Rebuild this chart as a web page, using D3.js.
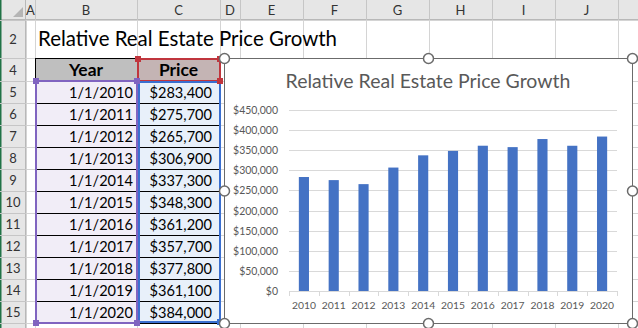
<!DOCTYPE html>
<html><head><meta charset="utf-8">
<script src="https://cdn.jsdelivr.net/npm/d3@7"></script>
<style>html,body{margin:0;padding:0;background:#fff;overflow:hidden}svg{display:block}</style>
</head><body>
<svg id="c" width="638" height="328"></svg>
<script>
const categories = ["2010","2011","2012","2013","2014","2015","2016","2017","2018","2019","2020"];
const dates = ["1/1/2010","1/1/2011","1/1/2012","1/1/2013","1/1/2014","1/1/2015","1/1/2016","1/1/2017","1/1/2018","1/1/2019","1/1/2020"];
const prices = [283400,275700,265700,306900,337300,348300,361200,357700,377800,361100,384000];
const yTicks = [0,50000,100000,150000,200000,250000,300000,350000,400000,450000];
const columnLetters = ["A","B","C","D","E","F","G","H","I","J",""];
const rowNumbers = ["2","4","5","6","7","8","9","10","11","12","13","14","15"];
const sheetTitle = "Relative Real Estate Price Growth";
const chartTitle = "Relative Real Estate Price Growth";
const headers = ["Year","Price"];

const FONT = "Lato, 'Open Sans', sans-serif";
const svg = d3.select("#c");
svg.append("rect").attr("width",638).attr("height",328).attr("fill","#fff");

function fit(sel, target){
  const n = sel.node(); const fs = parseFloat(sel.attr("font-size"));
  const w = n.getComputedTextLength();
  if (w>0) sel.attr("font-size", fs*target/w);
  return parseFloat(sel.attr("font-size"));
}

// grid geometry
const colEdges = [26,35,137,220,240,303,366,429,492,555,618,681];
const rowEdges = [20,58,81]; for(let i=1;i<=11;i++) rowEdges.push(81+22*i); rowEdges.push(345);

const grid = svg.append("g");
colEdges.forEach(x=>grid.append("line").attr("x1",x+0.5).attr("x2",x+0.5).attr("y1",20).attr("y2",328).attr("stroke","#d4d4d4"));
rowEdges.forEach(y=>grid.append("line").attr("x1",26).attr("x2",638).attr("y1",y+0.5).attr("y2",y+0.5).attr("stroke","#d4d4d4"));

// headers
svg.append("rect").attr("x",0).attr("y",0).attr("width",638).attr("height",20).attr("fill","#e6e6e6");
svg.append("rect").attr("x",0).attr("y",0).attr("width",26).attr("height",328).attr("fill","#e6e6e6");
svg.append("line").attr("x1",0).attr("x2",638).attr("y1",19.5).attr("y2",19.5).attr("stroke","#b8b8b8");
svg.append("line").attr("x1",25.5).attr("x2",25.5).attr("y1",0).attr("y2",328).attr("stroke","#b8b8b8");
svg.append("rect").attr("x",0).attr("y",0).attr("width",1.5).attr("height",328).attr("fill","#217346");
svg.append("path").attr("d","M23,7 L23,17 L13,17 Z").attr("fill","#b5b5b5");
colEdges.slice(0,-1).forEach((x,i)=>{
  svg.append("line").attr("x1",colEdges[i+1]+0.5).attr("x2",colEdges[i+1]+0.5).attr("y1",0).attr("y2",20).attr("stroke","#c6c6c6");
  if (columnLetters[i]) svg.append("text").attr("x",(x+colEdges[i+1])/2).attr("y",15).attr("text-anchor","middle")
    .attr("font-family",FONT).attr("font-size",13).attr("fill","#333").text(columnLetters[i]);
});
rowNumbers.forEach((r,i)=>{
  const y0=rowEdges[i], y1=rowEdges[i+1];
  svg.append("line").attr("x1",0).attr("x2",26).attr("y1",y1+0.5).attr("y2",y1+0.5).attr("stroke","#c6c6c6");
  svg.append("text").attr("x",13).attr("y",(y0+y1)/2+5).attr("text-anchor","middle")
    .attr("font-family",FONT).attr("font-size",13).attr("fill","#333").text(r);
});
svg.append("line").attr("x1",0).attr("x2",26).attr("y1",20.5).attr("y2",20.5).attr("stroke","#c6c6c6");

// sheet title
const st = svg.append("text").attr("x",38).attr("y",46).attr("font-family",FONT).attr("font-size",20).attr("fill","#000").text(sheetTitle);
fit(st, 299);

// table
const bx0=35, bx1=137, cx1=220;
svg.append("rect").attr("x",bx0).attr("y",58).attr("width",bx1-bx0).attr("height",23).attr("fill","#bfbfbf");
svg.append("rect").attr("x",bx1).attr("y",58).attr("width",cx1-bx1).attr("height",23).attr("fill","#c4b4b4");
svg.append("rect").attr("x",bx0).attr("y",81).attr("width",bx1-bx0).attr("height",242).attr("fill","#f1edf7");
svg.append("rect").attr("x",bx1).attr("y",81).attr("width",cx1-bx1).attr("height",242).attr("fill","#e8f0fa");
for(let i=0;i<=12;i++){
  const y = i===0?58:81+22*(i-1);
  svg.append("line").attr("x1",bx0).attr("x2",cx1).attr("y1",y+0.5).attr("y2",y+0.5).attr("stroke","#000");
}
[bx0,bx1,cx1].forEach(x=>svg.append("line").attr("x1",x+0.5).attr("x2",x+0.5).attr("y1",58).attr("y2",323).attr("stroke","#000"));

const fmtCell = d3.format("$,");
const probe = svg.append("text").attr("font-family",FONT).attr("font-size",15).text(dates[0]);
const cellFs = fit(probe, 64); probe.remove();
const hY = svg.append("text").attr("x",(bx0+bx1)/2).attr("y",76).attr("text-anchor","middle").attr("font-family",FONT)
  .attr("font-weight","bold").attr("font-size",cellFs).text(headers[0]);
const hFs = fit(hY, 34);
svg.append("text").attr("x",(bx1+cx1)/2).attr("y",76).attr("text-anchor","middle").attr("font-family",FONT)
  .attr("font-weight","bold").attr("font-size",hFs).text(headers[1]);
dates.forEach((d,i)=>{
  svg.append("text").attr("x",133).attr("y",98+22*i).attr("text-anchor","end").attr("font-family",FONT)
    .attr("font-size",cellFs).attr("fill","#000").text(d);
  svg.append("text").attr("x",212).attr("y",98+22*i).attr("text-anchor","end").attr("font-family",FONT)
    .attr("font-size",cellFs).attr("fill","#000").text(fmtCell(prices[i]));
});

// range highlights
svg.append("rect").attr("x",bx0+1).attr("y",81).attr("width",bx1-bx0-1).attr("height",242).attr("fill","none").attr("stroke","#8064c0").attr("stroke-width",2);
svg.append("rect").attr("x",bx1+1).attr("y",59).attr("width",cx1-bx1-1).attr("height",22).attr("fill","none").attr("stroke","#c0353d").attr("stroke-width",2);
svg.append("rect").attr("x",bx1+2).attr("y",82).attr("width",cx1-bx1-2).attr("height",240).attr("fill","none").attr("stroke","#3a6fd0").attr("stroke-width",2);
function handle(x,y,c){svg.append("rect").attr("x",x-3).attr("y",y-3).attr("width",6).attr("height",6).attr("fill",c);}
[[bx0+1,81],[bx1,81],[bx0+1,323],[bx1,323]].forEach(p=>handle(p[0],p[1],"#8064c0"));
[[bx1+1,59],[cx1,59],[cx1,81]].forEach(p=>handle(p[0],p[1],"#c0353d"));
handle(cx1,322,"#3a6fd0");

// chart
const L=224, R=632, T=58, B=323;
svg.append("rect").attr("x",L+0.5).attr("y",T+0.5).attr("width",R-L).attr("height",B-T).attr("fill","#fff").attr("stroke","#6b6b6b");
const ct = svg.append("text").attr("x",(L+R)/2).attr("y",88).attr("text-anchor","middle").attr("font-family",FONT)
  .attr("font-size",20).attr("fill","#595959").text(chartTitle);
fit(ct,285);

const x = d3.scaleBand().domain(categories).range([289,617]).paddingInner(0.66).paddingOuter(0.33);
const y = d3.scaleLinear().domain([0,450000]).range([291,110]);

const gy = svg.append("g");
yTicks.forEach(t=>{
  gy.append("line").attr("x1",289).attr("x2",617).attr("y1",Math.round(y(t))+0.5).attr("y2",Math.round(y(t))+0.5).attr("stroke","#d9d9d9");
});
const fmtAxis = d3.format("$,");
const yl = gy.selectAll("text.yl").data(yTicks).join("text").attr("class","yl")
  .attr("x",278).attr("y",t=>y(t)+4).attr("text-anchor","end").attr("font-family",FONT)
  .attr("font-size",11).attr("fill","#595959").text(t=>fmtAxis(t));
const yfs = fit(d3.select(yl.nodes()[9]),45);
yl.attr("font-size",yfs);

svg.append("g").selectAll("rect").data(prices).join("rect")
  .attr("x",(d,i)=>x(categories[i])).attr("width",x.bandwidth())
  .attr("y",d=>y(d)).attr("height",d=>y(0)-y(d)).attr("fill","#4472c4");

const step = x.step();
svg.append("line").attr("x1",289).attr("x2",617).attr("y1",Math.round(y(0))+0.5).attr("y2",Math.round(y(0))+0.5).attr("stroke","#d9d9d9");
d3.range(categories.length+1).forEach(i=>{
  const xx = Math.round(289+i*step)+0.5;
  svg.append("line").attr("x1",xx).attr("x2",xx).attr("y1",y(0)).attr("y2",y(0)+5).attr("stroke","#d9d9d9");
});
const xl = svg.selectAll("text.xl").data(categories).join("text").attr("class","xl")
  .attr("x",d=>x(d)+x.bandwidth()/2).attr("y",309).attr("text-anchor","middle").attr("font-family",FONT)
  .attr("font-size",11).attr("fill","#595959").text(d=>d);
const xfs = fit(d3.select(xl.nodes()[0]),24);
xl.attr("font-size",xfs);

[[L,T],[(L+R)/2,T],[R,T],[L,(T+B)/2],[R,(T+B)/2],[L,B],[(L+R)/2,B],[R,B]].forEach(p=>{
  svg.append("circle").attr("cx",p[0]+0.5).attr("cy",p[1]+0.5).attr("r",5).attr("fill","#fff").attr("stroke","#6b6b6b").attr("stroke-width",1.5);
});
</script>
</body></html>
